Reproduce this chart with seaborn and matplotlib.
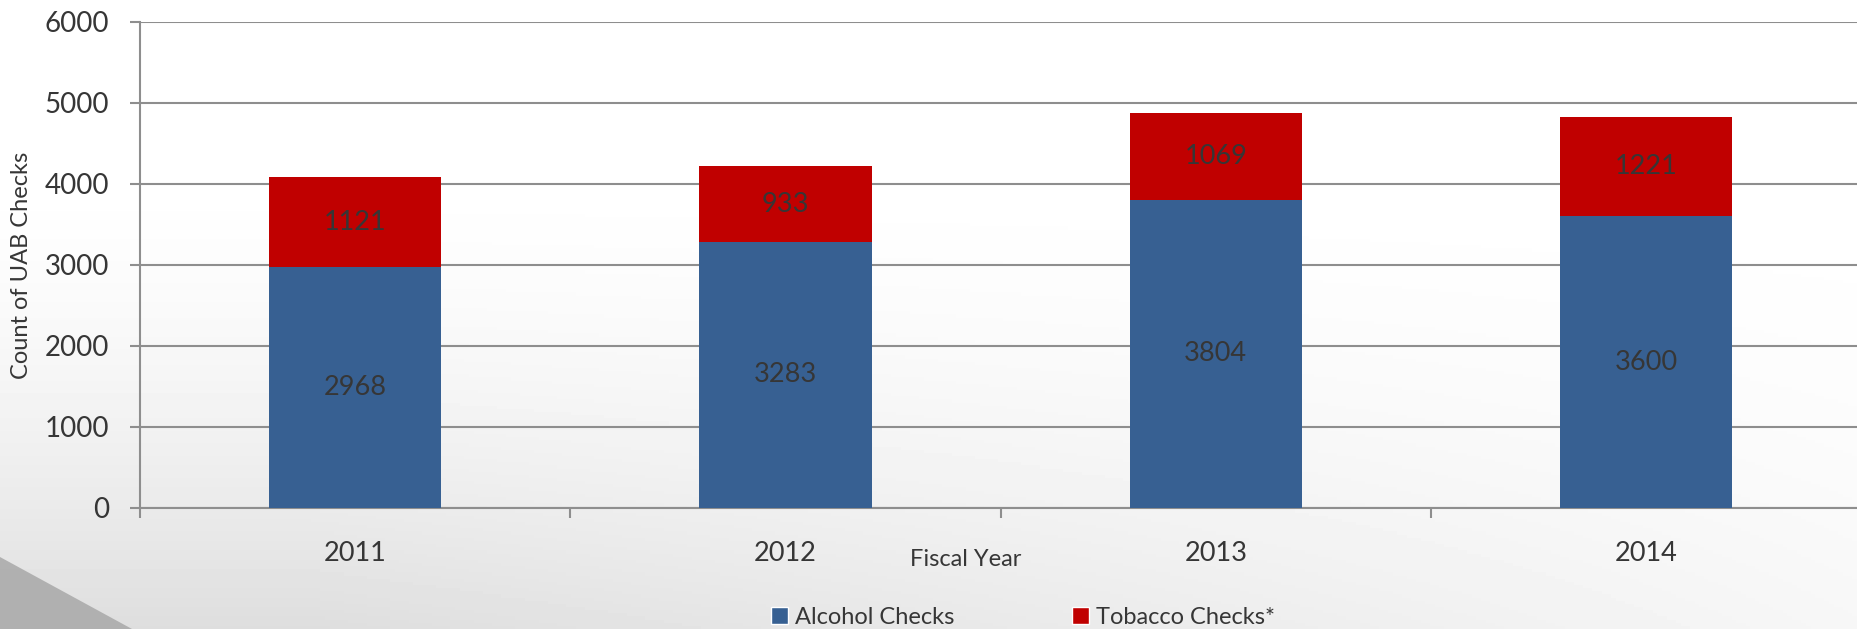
import numpy as np
import pandas as pd
import matplotlib
matplotlib.use("Agg")
import matplotlib.pyplot as plt
from matplotlib.patches import Patch, Polygon
import seaborn as sns

# ------------------------------------------------------------------
# DATA
# ------------------------------------------------------------------
years = ["2011", "2012", "2013", "2014"]
alcohol = [2968, 3283, 3804, 3600]
tobacco = [1121, 933, 1069, 1221]

BLUE = "#376092"
RED = "#C00000"
GRID = "#8e8e8e"
TXT = "#363636"

df = pd.DataFrame({"year": years, "alcohol": alcohol, "tobacco": tobacco})
df["total"] = df["alcohol"] + df["tobacco"]

sns.set_theme(style="white")
plt.rcParams["font.family"] = ["Lato", "DejaVu Sans"]

W, H = 1857, 629
fig = plt.figure(figsize=(W / 100, H / 100), dpi=100)

# background: slide-style grey gradient, darker toward lower left
bg = fig.add_axes([0, 0, 1, 1], zorder=-10)
yy, xx = np.mgrid[0:1:200j, 0:1:400j]
shade = np.clip((yy - 0.25) / 0.75, 0, 1) ** 1.6 * np.clip(1.15 - xx * 0.9, 0, 1)
bg.imshow(1 - 0.13 * shade, cmap="gray", vmin=0, vmax=1, aspect="auto",
          extent=[0, 1, 0, 1], origin="upper")
bg.add_patch(Polygon([(0, 1 - 557 / H), (132 / W, 0), (0, 0)], closed=True,
                     facecolor="#a8a8a8", edgecolor="none", alpha=0.85))
bg.set_xlim(0, 1)
bg.set_ylim(0, 1)
bg.axis("off")

ax = fig.add_axes([140 / W, 1 - 508 / H, 1 - 140 / W, (508 - 21.7) / H])
ax.patch.set_alpha(0)

sns.barplot(data=df, x="year", y="total", order=years, color=RED,
            width=0.4, saturation=1, errorbar=None, linewidth=0, ax=ax, zorder=3)
sns.barplot(data=df, x="year", y="alcohol", order=years, color=BLUE,
            width=0.4, saturation=1, errorbar=None, linewidth=0, ax=ax, zorder=3)

for i, (a, t) in enumerate(zip(alcohol, tobacco)):
    ax.text(i, a / 2, f"{a}", ha="center", va="center", fontsize=19.5,
            color=TXT, zorder=5)
    ax.text(i, a + t / 2, f"{t}", ha="center", va="center", fontsize=19.5,
            color=TXT, zorder=5)

ax.set_ylim(0, 6000)
ax.set_xlim(-0.5, 3.49)
ax.set_yticks(range(0, 6001, 1000))
ax.yaxis.grid(True, color=GRID, linewidth=1.5, zorder=0)
ax.set_axisbelow(True)

ax.set_xticks(range(len(years)))
ax.set_xticklabels(years, fontsize=19.5, color=TXT)
ax.set_xticks([-0.5, 0.5, 1.5, 2.5], minor=True)
ax.tick_params(axis="x", which="major", length=0, pad=24)
ax.tick_params(axis="x", which="minor", length=7, width=1.5, color=GRID,
               direction="out", bottom=True)
ax.tick_params(axis="y", length=7, width=1.5, color=GRID, direction="out",
               left=True, labelsize=20, labelcolor=TXT, pad=15)

for side in ["top", "right"]:
    ax.spines[side].set_visible(False)
for side in ["left", "bottom"]:
    ax.spines[side].set_color(GRID)
    ax.spines[side].set_linewidth(1.5)

ax.set_xlabel("")
ax.set_ylabel("")
fig.text(22 / W, 1 - 265 / H, "Count of UAB Checks", rotation=90,
         ha="center", va="center", fontsize=17, color=TXT)
fig.text(966 / W, 1 - 560 / H, "Fiscal Year", ha="center", va="center",
         fontsize=17, color=TXT)

handles = [Patch(facecolor=BLUE, label="Alcohol Checks"),
           Patch(facecolor=RED, label="Tobacco Checks*")]
fig.legend(handles=handles, loc="center", bbox_to_anchor=(1023 / W, 1 - 617 / H),
           ncol=2, frameon=False, handlelength=0.7, handleheight=0.7,
           handletextpad=0.3, columnspacing=5.0,
           prop={"size": 17}, labelcolor=TXT)

fig.savefig("out.png", dpi=100)
